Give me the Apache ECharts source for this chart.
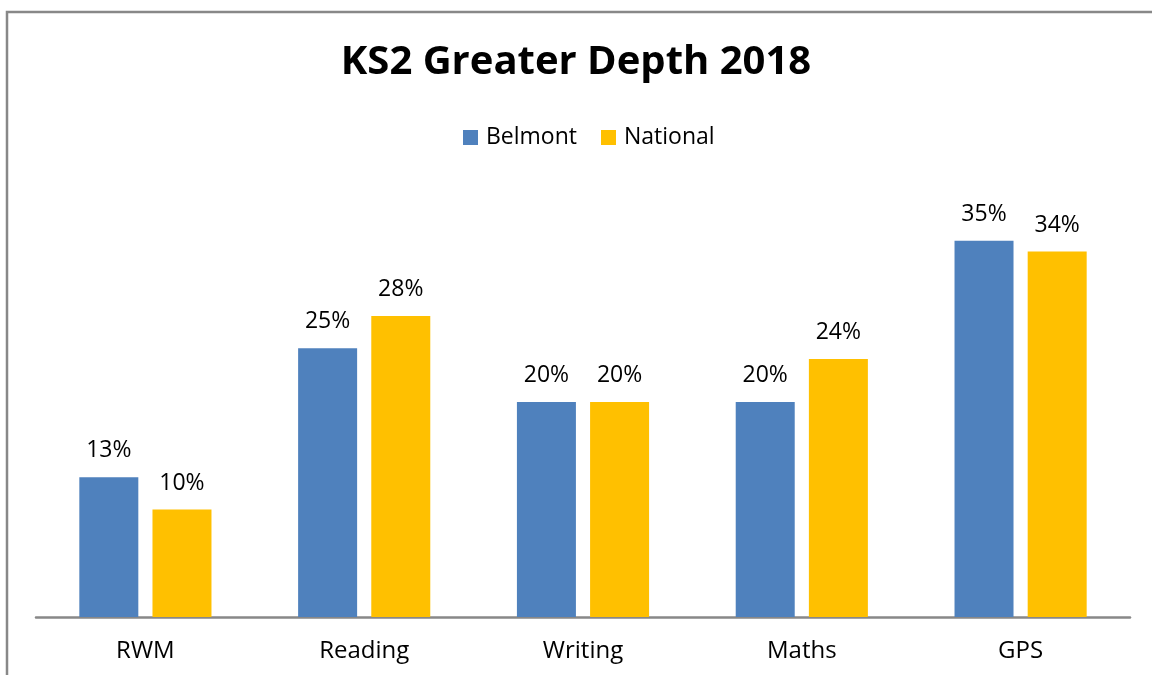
<!DOCTYPE html>
<html>
<head>
<meta charset="utf-8">
<script src="https://cdn.jsdelivr.net/npm/echarts@6/dist/echarts.min.js"></script>
<style>html,body{margin:0;padding:0;background:#fff}#c{width:1152px;height:675px}</style>
</head>
<body>
<div id="c"></div>
<script>
const categories = ['RWM', 'Reading', 'Writing', 'Maths', 'GPS'];
const belmont = [13, 25, 20, 20, 35];
const national = [10, 28, 20, 24, 34];
const seriesNames = ['Belmont', 'National'];

const chart = echarts.init(document.getElementById('c'));
const font = '"Open Sans", "Noto Sans", sans-serif';
const label = {show: true, position: 'top', distance: 15, formatter: '{c}%', fontSize: 23, color: '#000', fontFamily: font};
chart.setOption({
  animation: false,
  title: {text: 'KS2 Greater Depth 2018', left: 'center', top: 38, textStyle: {fontSize: 40, fontWeight: 'bold', color: '#000', fontFamily: font}},
  legend: {data: seriesNames, top: 121, left: 458, itemWidth: 15, itemHeight: 15, itemGap: 24, icon: 'rect', textStyle: {fontSize: 23, color: '#000', fontFamily: font, padding: [0, 0, 0, 3]}},
  graphic: [{type: 'rect', shape: {x: 7, y: 12, width: 1300, height: 800}, style: {fill: 'none', stroke: '#888', lineWidth: 2.5}, silent: true}],
  grid: {left: 36, right: 22, top: 187, bottom: 58},
  xAxis: {type: 'category', data: categories, axisLine: {lineStyle: {color: '#888', width: 2.5}}, axisTick: {show: false}, axisLabel: {fontSize: 24, color: '#000', margin: 22, fontFamily: font}},
  yAxis: {type: 'value', min: 0, max: 40, show: false, splitLine: {show: false}},
  series: [
    {name: seriesNames[0], type: 'bar', data: belmont, barWidth: 59, barGap: '24%', itemStyle: {color: '#4F81BD'}, label: label},
    {name: seriesNames[1], type: 'bar', data: national, barWidth: 59, barGap: '24%', itemStyle: {color: '#FFC000'}, label: label}
  ]
});
</script>
</body>
</html>
